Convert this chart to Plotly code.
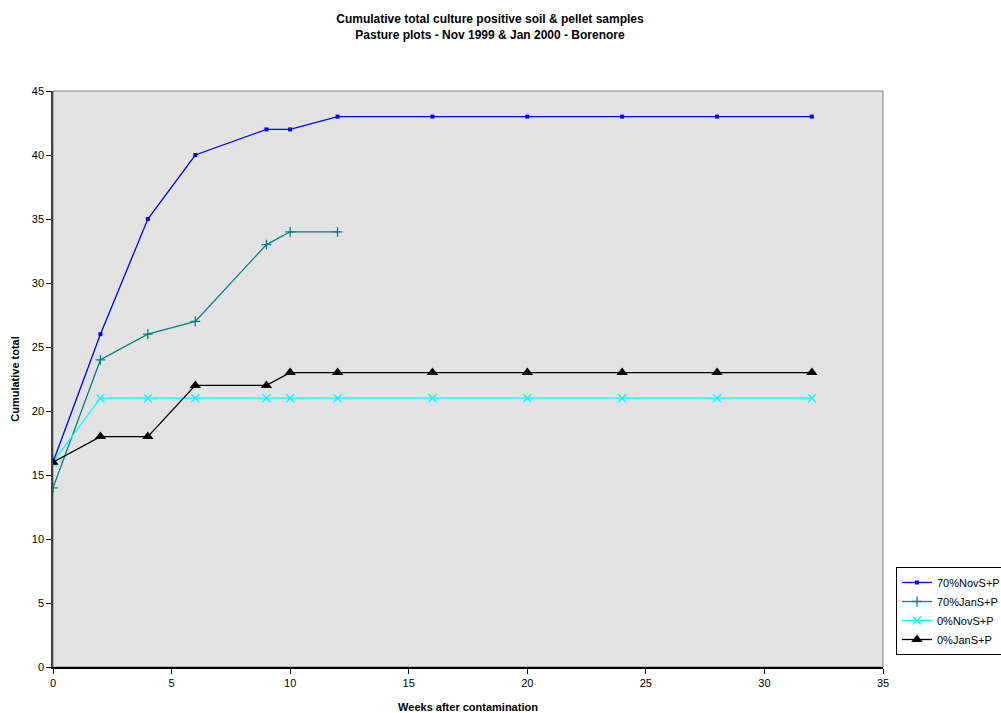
import plotly.graph_objects as go

weeks = [0, 2, 4, 6, 9, 10, 12, 16, 20, 24, 28, 32]
nov70 = [16, 26, 35, 40, 42, 42, 43, 43, 43, 43, 43, 43]
weeks_jan70 = [0, 2, 4, 6, 9, 10, 12]
jan70 = [14, 24, 26, 27, 33, 34, 34]
nov0 = [16, 21, 21, 21, 21, 21, 21, 21, 21, 21, 21, 21]
jan0 = [16, 18, 18, 22, 22, 23, 23, 23, 23, 23, 23, 23]

FONT = "Liberation Sans, Arial, sans-serif"

fig = go.Figure()
fig.add_trace(go.Scatter(x=weeks, y=nov70, name="70%NovS+P", mode="lines+markers",
                         line=dict(color="#0000FF", width=1.3),
                         marker=dict(symbol="square", size=4, color="#0000FF")))
fig.add_trace(go.Scatter(x=weeks_jan70, y=jan70, name="70%JanS+P", mode="lines+markers",
                         line=dict(color="#008080", width=1.3),
                         marker=dict(symbol="cross-thin", size=7, color="#008080",
                                     line=dict(color="#008080", width=1.3))))
fig.add_trace(go.Scatter(x=weeks, y=nov0, name="0%NovS+P", mode="lines+markers",
                         line=dict(color="#00FFFF", width=1.3),
                         marker=dict(symbol="x-thin", size=8, color="#00FFFF",
                                     line=dict(color="#00FFFF", width=1.3))))
fig.add_trace(go.Scatter(x=weeks, y=jan0, name="0%JanS+P", mode="lines+markers",
                         line=dict(color="#000000", width=1.3),
                         marker=dict(symbol="triangle-up", size=10, color="#000000")))

fig.update_layout(
    width=1001, height=713,
    margin=dict(l=53, r=118, t=91, b=46, autoexpand=False),
    paper_bgcolor="white", plot_bgcolor="#E3E3E3",
    font=dict(family=FONT, size=11, color="black"),
    title=dict(text="<b>Cumulative total culture positive soil & pellet samples<br>Pasture plots - Nov 1999 & Jan 2000 - Borenore</b>",
               x=490/1001, xref="container", xanchor="center", y=1 - 23/713, yref="container", yanchor="top",
               font=dict(family=FONT, size=12)),
    xaxis=dict(range=[0, 35], dtick=5, tick0=0, showgrid=False, zeroline=False,
               showline=True, linecolor="black", linewidth=1.5, automargin=False,
               ticks="outside", ticklen=5, tickcolor="black",
               title=dict(text="<b>Weeks after contamination</b>", font=dict(size=11), standoff=16)),
    yaxis=dict(range=[0, 45], dtick=5, tick0=0, showgrid=False, zeroline=False,
               showline=True, linecolor="#404040", linewidth=1.5, automargin=False,
               ticks="outside", ticklen=5, tickcolor="black",
               title=dict(text="<b>Cumulative total</b>", font=dict(size=11), standoff=10)),
    legend=dict(x=896/1001, xref="container", y=1 - 567/713, yref="container",
                xanchor="left", yanchor="top",
                bordercolor="black", borderwidth=1, bgcolor="white",
                font=dict(size=11), tracegroupgap=0, itemwidth=30),
    showlegend=True,
)
fig.add_shape(type="rect", xref="paper", yref="paper", x0=0, y0=0, x1=1, y1=1,
              line=dict(color="#808080", width=1), layer="below")

fig.write_html("out.html")
